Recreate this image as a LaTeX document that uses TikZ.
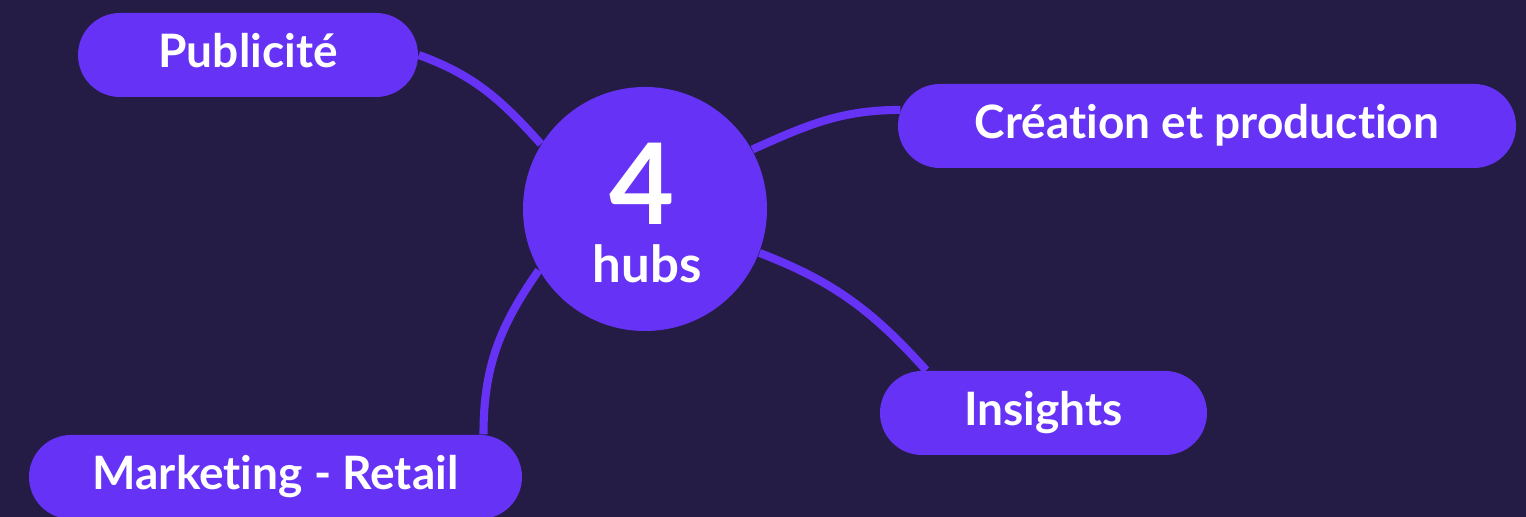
\documentclass[tikz,border=0pt]{standalone}
\usepackage{fontspec}
\setmainfont{Lato}[Ligatures=NoCommon]
\usetikzlibrary{shapes.misc}
\definecolor{nightbg}{RGB}{36,28,69}
\definecolor{hubviolet}{RGB}{102,51,246}
\tikzset{
    pill/.style={rounded rectangle, fill=hubviolet, text=white, minimum height=.84cm,
        inner sep=0pt, font=\bfseries\fontsize{13.1}{15}\selectfont,
        text height=9.3pt, text depth=2.4pt},
    link/.style={draw=hubviolet, line width=2.3pt}
}
\begin{document}
\begin{tikzpicture}
    \useasboundingbox (0,0) rectangle (15.26,5.17);
    \fill[nightbg] (0,0) rectangle (15.26,5.17);

    \node[circle, fill=hubviolet, minimum size=2.44cm, inner sep=0pt] (hub) at (6.45,3.08) {};
    \node[anchor=base, text=white, font=\bfseries\fontsize{32}{32}\selectfont] (four) at (6.42,2.92) {4};
    \node[anchor=base, text=white, font=\bfseries\fontsize{14.5}{16}\selectfont] (hubs) at (6.47,2.34) {hubs};

    \node[pill, minimum width=3.40cm] (pub) at (2.48,4.62) {Publicité};
    \node[pill, minimum width=6.18cm] (crea) at (12.07,3.91) {Création et production};
    \node[pill, minimum width=3.27cm] (ins) at (10.435,1.04) {Insights};
    \node[pill, minimum width=4.93cm] (mkt) at (2.755,0.40) {Marketing - Retail};

    \draw[link] (hub.148) to[out=132, in=-20] (pub.east);
    \draw[link] (hub.29) to[out=24, in=180] (crea.177);
    \draw[link] (hub.-21) to[out=-21, in=132] (ins.160);
    \draw[link] (hub.210) to[out=235, in=90] ([xshift=2.08cm]mkt.north);
\end{tikzpicture}
\end{document}
